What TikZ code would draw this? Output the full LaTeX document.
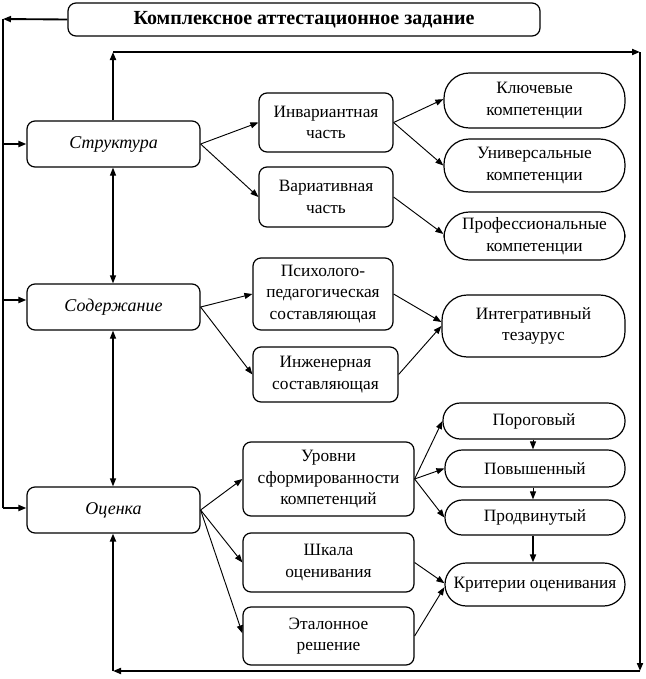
\documentclass[tikz,border=0pt]{standalone}
\usepackage{fontspec}
\setmainfont{Liberation Serif}
\usetikzlibrary{arrows.meta}
\newcommand\mkbox[7][]{\node[#1, minimum width={(#5-#3)*0.75pt}, minimum height={(#6-#4)*0.75pt}] (#2) at ({(#3+#5)/2},{(#4+#6)/2}) {#7};}
\begin{document}
\begin{tikzpicture}[x=0.75pt,y=-0.75pt,
  >={Triangle[length=6pt,width=4.5pt]},
  txt/.style={font=\fontsize{13}{16.3}\selectfont, align=center},
  box/.style={draw, line width=0.9pt, rounded corners=6pt, inner sep=0pt, txt},
  ibox/.style={box, font=\fontsize{13.5}{16}\selectfont\itshape},
  pill/.style={draw, line width=0.9pt, rounded corners=19pt, inner sep=0pt, txt},
  spill/.style={draw, line width=0.9pt, rounded corners=13pt, inner sep=0pt, txt},
  kpill/.style={pill, rounded corners=16pt},
  arr/.style={->, line width=0.7pt},
  frame/.style={line width=1.4pt},
  farr/.style={->, line width=1.4pt}]
\useasboundingbox (0,0) rectangle (646,679);

% title
\mkbox[box, font=\fontsize{15}{17}\selectfont\bfseries]{title}{68}{3}{540}{36}{Комплексное аттестационное задание}

% left column
\mkbox[ibox]{str}{27}{121}{200}{167}{Структура}
\mkbox[ibox]{sod}{27}{284}{200}{330}{Содержание}
\mkbox[ibox]{ots}{27}{487}{200}{533}{Оценка}

% middle column
\mkbox[box]{inv}{259}{93}{393}{152}{Инвариантная\\часть}
\mkbox[box]{var}{259}{167}{393}{227}{Вариативная\\часть}
\mkbox[box]{psy}{253}{258}{393}{330}{Психолого-\\педагогическая\\составляющая}
\mkbox[box]{ing}{253}{347}{398}{402}{Инженерная\\составляющая}
\mkbox[box]{urv}{243}{442}{414}{516}{Уровни\\сформированности\\компетенций}
\mkbox[box]{shk}{243}{533}{414}{592}{Шкала\\оценивания}
\mkbox[box]{etl}{243}{607}{414}{665}{Эталонное\\решение}

% right column
\mkbox[pill]{klu}{444}{73}{625}{128}{Ключевые\\компетенции}
\mkbox[pill]{uni}{444}{139}{625}{192}{Универсальные\\компетенции}
\mkbox[pill]{pro}{444}{212}{625}{260}{Профессиональные\\компетенции}
\mkbox[pill]{int}{442}{295}{625}{357}{Интегративный\\тезаурус}
\mkbox[spill]{por}{443}{403}{625}{439}{Пороговый}
\mkbox[spill]{pov}{445}{450}{625}{487}{Повышенный}
\mkbox[spill]{prd}{445}{500}{625}{535}{Продвинутый}
\mkbox[kpill]{kri}{445}{563}{625}{606}{Критерии оценивания}

% frame coordinates
\coordinate (tl) at (3,19);
\coordinate (tb) at (3,508);
\coordinate (l1) at (3,144);
\coordinate (l2) at (3,300);
\coordinate (l3) at (3,508);
\coordinate (ut) at (113,52);
\coordinate (ur) at (640,52);
\coordinate (br) at (640,671);
\coordinate (bl) at (113,671);

% left frame
\draw[farr] (title.west) -- (tl);
\draw[frame] (tl) -- (tb);
\draw[farr] (l1) -- (l1 -| str.west);
\draw[farr] (l2) -- (l2 -| sod.west);
\draw[farr] (l3) -- (l3 -| ots.west);

% outer loop
\draw[farr] (str.north -| ut) -- (ut);
\draw[farr] (ut) -- (ur);
\draw[farr] (ur) -- (br);
\draw[farr] (br) -- (bl);
\draw[farr] (bl) -- (ots.south -| bl);

% vertical links
\draw[<->, line width=0.9pt] (str.south -| ut) -- (sod.north -| ut);
\draw[<->, line width=0.9pt] (sod.south -| ut) -- (ots.north -| ut);

% branches
\draw[arr] (str.east) -- (inv.west);
\draw[arr] (str.east) -- (var.west);
\draw[arr] (inv.east) -- ([yshift=1pt]klu.west);
\draw[arr] (inv.east) -- (uni.west);
\draw[arr] (var.east) -- ([yshift=1.5pt]pro.west);
\draw[arr] (sod.east) -- (psy.west);
\draw[arr] (sod.east) -- (ing.west);
\draw[arr] (psy.east) -- ([yshift=3pt]int.west);
\draw[arr] (ing.east) -- (int.west);
\draw[arr] (ots.east) -- (urv.west);
\draw[arr] (ots.east) -- (shk.west);
\draw[arr] (ots.east) -- ([yshift=2pt]etl.west);
\draw[arr] (urv.east) -- (por.west);
\draw[arr] (urv.east) -- (pov.west);
\draw[arr] (urv.east) -- (prd.west);
\draw[arr] (shk.east) -- ([yshift=1pt]kri.west);
\draw[arr] (etl.east) -- ([yshift=-2pt]kri.west);
\coordinate (cx) at (533,0);
\draw[arr] (por.south -| cx) -- (pov.north -| cx);
\draw[arr] (pov.south -| cx) -- (prd.north -| cx);
\draw[->, line width=1.3pt] (prd.south -| cx) -- (kri.north -| cx);
\end{tikzpicture}
\end{document}
